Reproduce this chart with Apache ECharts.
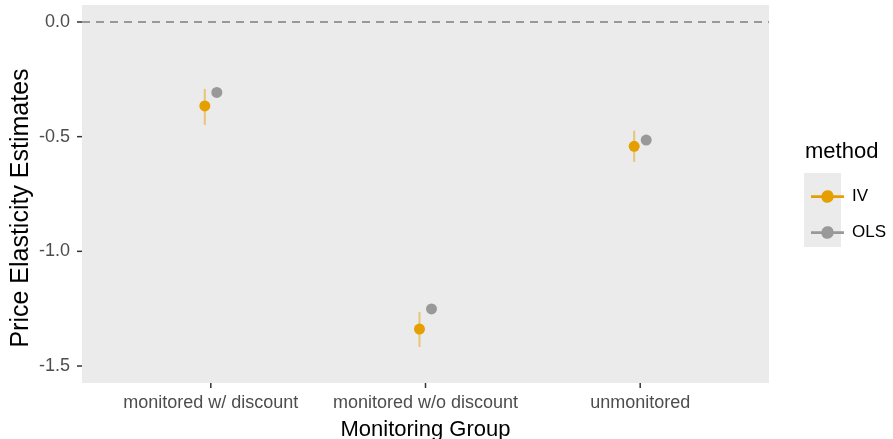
<!DOCTYPE html>
<html>
<head>
<meta charset="utf-8">
<script src="https://cdn.jsdelivr.net/npm/echarts@6/dist/echarts.min.js"></script>
<style>
  html, body { margin: 0; padding: 0; background: #fff; }
  #chart { width: 893px; height: 439px; }
</style>
</head>
<body>
<div id="chart"></div>
<script>
var groups = ['monitored w/ discount', 'monitored w/o discount', 'unmonitored'];
var methods = ['IV', 'OLS'];
var ivEst = [-0.366, -1.339, -0.542];
var ivLow = [-0.449, -1.417, -0.610];
var ivHigh = [-0.292, -1.264, -0.474];
var olsEst = [-0.307, -1.251, -0.515];
var olsLow = [-0.317, -1.262, -0.525];
var olsHigh = [-0.297, -1.240, -0.505];
var xTicks = [0, 1, 2];
var yTicks = [-1.5, -1.0, -0.5, 0.0];

var xMin = -0.6, xMax = 2.6;
var yMin = -1.574, yMax = 0.074;
var colors = { IV: '#E69F00', OLS: '#999999' };
var dodge = 0.028;
var font = 'Liberation Sans, Arial, sans-serif';

var chart = echarts.init(document.getElementById('chart'));

function pointData(est, off) {
    var out = [];
    for (var i = 0; i < est.length; i++) out.push([i + off, est[i]]);
    return out;
}
function barData(lo, hi, off) {
    var out = [];
    for (var i = 0; i < lo.length; i++) out.push([i + off, lo[i], hi[i]]);
    return out;
}
function errorBar(color) {
    return function (params, api) {
        var a = api.coord([api.value(0), api.value(1)]);
        var b = api.coord([api.value(0), api.value(2)]);
        return {
            type: 'line',
            shape: { x1: a[0], y1: a[1], x2: b[0], y2: b[1] },
            style: { stroke: color, lineWidth: 2, opacity: 0.5 }
        };
    };
}
// axis ticks (ticks are not drawn by the axis once onZero is off in this build)
function tickMark(dx, dy) {
    return function (params, api) {
        var p = api.coord([api.value(0), api.value(1)]);
        return {
            type: 'line',
            shape: { x1: p[0], y1: p[1], x2: p[0] + dx, y2: p[1] + dy },
            style: { stroke: '#333333', lineWidth: 1.5 }
        };
    };
}

var keyIcon = 'path://M0,8H7.6A4.5,4.5 0 0 1 16.4,8H24V10H16.4A4.5,4.5 0 0 1 7.6,10H0Z';

var option = {
    animation: false,
    backgroundColor: '#ffffff',
    textStyle: { fontFamily: font },
    grid: {
        left: 82, top: 5, right: 124, bottom: 56,
        outerBoundsMode: 'none',
        show: true, backgroundColor: '#EBEBEB', borderWidth: 0
    },
    xAxis: {
        type: 'value',
        min: xMin,
        max: xMax,
        name: 'Monitoring Group',
        nameLocation: 'middle',
        nameGap: 36,
        nameTextStyle: { color: '#000', fontSize: 22 },
        axisLine: { show: false, onZero: false },
        splitLine: { show: false },
        axisTick: { show: false },
        axisLabel: {
            customValues: xTicks,
            color: '#4d4d4d', fontSize: 18, margin: 11,
            formatter: function (v) { return groups[Math.round(v)]; }
        }
    },
    yAxis: {
        type: 'value',
        min: yMin,
        max: yMax,
        name: 'Price Elasticity Estimates',
        nameLocation: 'middle',
        nameGap: 48,
        nameMoveOverlap: false,
        nameTextStyle: { color: '#000', fontSize: 25, padding: [0, 28, 0, 0] },
        axisLine: { show: false, onZero: false },
        splitLine: { show: false },
        axisTick: { show: false },
        axisLabel: {
            customValues: yTicks,
            color: '#4d4d4d', fontSize: 18, margin: 12,
            formatter: function (v) { return v.toFixed(1); }
        }
    },
    legend: {
        orient: 'vertical',
        left: 806,
        top: 183,
        itemWidth: 33,
        itemHeight: 18,
        itemGap: 19,
        icon: keyIcon,
        data: methods,
        textStyle: { color: '#000', fontSize: 17, padding: [0, 0, 0, 3] }
    },
    graphic: [
        { type: 'rect', left: 804, top: 173, shape: { width: 37, height: 74 }, style: { fill: '#EBEBEB' }, z: -1 },
        { type: 'text', left: 805, top: 141, style: { text: 'method', fill: '#000', fontSize: 22, fontFamily: font } }
    ],
    series: [
        {
            name: 'IV-bar', type: 'custom', renderItem: errorBar(colors.IV),
            data: barData(ivLow, ivHigh, -dodge), z: 2,
            markLine: {
                silent: true, symbol: 'none', label: { show: false },
                lineStyle: { color: '#7f7f7f', type: [8, 6], width: 1.5 },
                data: [{ yAxis: 0 }]
            }
        },
        { name: 'OLS-bar', type: 'custom', renderItem: errorBar(colors.OLS), data: barData(olsLow, olsHigh, dodge), z: 2 },
        { name: 'IV', type: 'scatter', symbolSize: 11, itemStyle: { color: colors.IV, opacity: 1 }, data: pointData(ivEst, -dodge), z: 3 },
        { name: 'OLS', type: 'scatter', symbolSize: 11, itemStyle: { color: colors.OLS, opacity: 1 }, data: pointData(olsEst, dodge), z: 3 },
        {
            name: 'x-ticks', type: 'custom', clip: false, silent: true,
            renderItem: tickMark(0, 5),
            data: xTicks.map(function (v) { return [v, yMin]; })
        },
        {
            name: 'y-ticks', type: 'custom', clip: false, silent: true,
            renderItem: tickMark(-5, 0),
            data: yTicks.map(function (v) { return [xMin, v]; })
        }
    ]
};

chart.setOption(option);
window.addEventListener('resize', chart.resize);
</script>
</body>
</html>
